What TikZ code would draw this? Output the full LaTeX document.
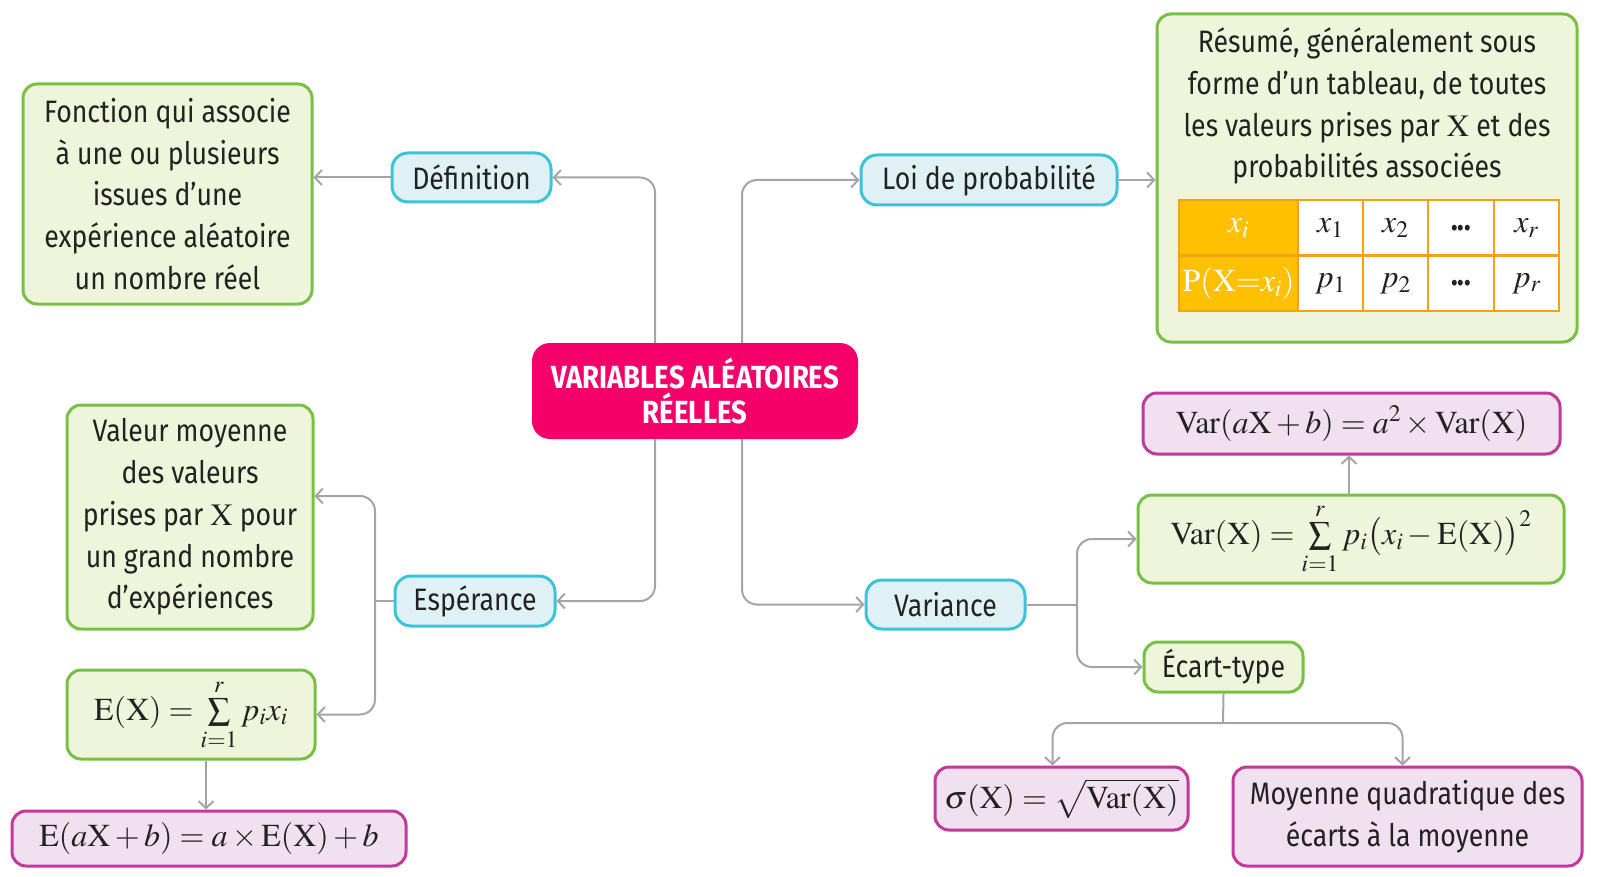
\documentclass[tikz,border=0pt]{standalone}
\usepackage{mathptmx}
\usepackage[no-math]{fontspec}
\setmainfont{Fira Sans}[FakeStretch=0.86]
\usetikzlibrary{arrows.meta}
\definecolor{gborder}{HTML}{78C043}
\definecolor{gfill}{HTML}{EEF5DB}
\definecolor{bborder}{HTML}{3CC3DA}
\definecolor{bfill}{HTML}{E0F1F5}
\definecolor{pinkc}{HTML}{F5006B}
\definecolor{pborder}{HTML}{C2399B}
\definecolor{pfill}{HTML}{F0E0F0}
\definecolor{conncol}{HTML}{A5A5A5}
\definecolor{txt}{HTML}{222222}
\definecolor{orangec}{HTML}{F7A11A}
\definecolor{yellowc}{HTML}{FFC000}
\begin{document}
\begin{tikzpicture}[x=1pt,y=-1pt,
  every node/.style={text=txt, font=\fontsize{31}{41.8}\selectfont, inner sep=0pt, align=center},
  mathfont/.style={font=\fontsize{32}{38}\selectfont},
  greenbox/.style={draw=gborder, fill=gfill, line width=3pt, rounded corners=14pt},
  bluebox/.style={draw=bborder, fill=bfill, line width=3pt, rounded corners=16pt},
  purplebox/.style={draw=pborder, fill=pfill, line width=3pt, rounded corners=14pt},
  centerbox/.style={fill=pinkc, rounded corners=18pt, text=white, font=\fontsize{32}{35.6}\selectfont\bfseries},
  conn/.style={draw=conncol, line width=2pt, rounded corners=15pt},
  arr/.style={conn, -{Straight Barb[length=7pt,width=15pt,line width=2pt]}},
  cell/.style={draw=orangec, line width=2pt, fill=white, minimum height=55pt, mathfont},
  hcell/.style={cell, fill=yellowc, text=white}
]
\useasboundingbox (0,0) rectangle (1597,877);

% nodes
\node[centerbox, minimum width=326pt, minimum height=96pt] (cen) at (695,391) {VARIABLES ALÉATOIRES\\RÉELLES};
\node[bluebox, minimum width=159pt, minimum height=49pt] (def) at (471.5,177.5) {Définition};
\node[greenbox, minimum width=289pt, minimum height=220pt] (fonc) at (167.5,194) {Fonction qui associe\\à une ou plusieurs\\issues d’une\\expérience aléatoire\\un nombre réel};
\node[bluebox, minimum width=256pt, minimum height=50pt] (loi) at (989,180) {Loi de probabilité};
\node[greenbox, minimum width=420pt, minimum height=328pt] (res) at (1367,178) {};
\node (restxt) at (1367,106) {Résumé, généralement sous\\forme d’un tableau, de toutes\\les valeurs prises par $\mathrm{X}$ et des\\probabilités associées};

% table
\node[hcell, minimum width=119pt] (h1) at (1238.5,228) {$x_i$};
\node[cell, minimum width=65pt] (h2) at (1330.5,228) {$x_1$};
\node[cell, minimum width=65pt] (h3) at (1395.5,228) {$x_2$};
\node[cell, minimum width=66pt] (h4) at (1461,228) {\textbf{...}};
\node[cell, minimum width=65pt] (h5) at (1526.5,228) {$x_r$};
\node[hcell, minimum width=119pt] (r1) at (1238.5,283.5) {$\mathrm{P}(\mathrm{X}{=}x_i)$};
\node[cell, minimum width=65pt] (r2) at (1330.5,283.5) {$p_1$};
\node[cell, minimum width=65pt] (r3) at (1395.5,283.5) {$p_2$};
\node[cell, minimum width=66pt] (r4) at (1461,283.5) {\textbf{...}};
\node[cell, minimum width=65pt] (r5) at (1526.5,283.5) {$p_r$};

\node[greenbox, minimum width=246pt, minimum height=224pt] (val) at (190,517) {Valeur moyenne\\des valeurs\\prises par $\mathrm{X}$ pour\\un grand nombre\\d’expériences};
\node[bluebox, minimum width=160pt, minimum height=50pt] (esp) at (475,601) {Espérance};
\node[greenbox, mathfont, minimum width=248pt, minimum height=89pt] (ex) at (191,714.5) {$\mathrm{E}(\mathrm{X}) = \sum\limits_{i=1}^{r} p_i x_i$};
\node[purplebox, mathfont, minimum width=394pt, minimum height=55pt] (eab) at (209,838.5) {$\mathrm{E}(a\mathrm{X}+b) = a\times\mathrm{E}(\mathrm{X})+b$};

\node[bluebox, minimum width=159pt, minimum height=49pt] (var) at (945.5,604.5) {Variance};
\node[purplebox, mathfont, minimum width=417pt, minimum height=61pt] (vab) at (1351.5,423.5) {$\mathrm{Var}(a\mathrm{X}+b) = a^2\times\mathrm{Var}(\mathrm{X})$};
\node[greenbox, mathfont, minimum width=426pt, minimum height=88pt] (varx) at (1351,539) {$\mathrm{Var}(\mathrm{X}) = \sum\limits_{i=1}^{r} p_i\bigl(x_i - \mathrm{E}(\mathrm{X})\bigr)^2$};
\node[greenbox, minimum width=159pt, minimum height=50pt] (et) at (1223.5,667) {Écart-type};
\node[purplebox, mathfont, minimum width=253pt, minimum height=63pt] (sig) at (1061.5,798.5) {$\sigma(\mathrm{X}) = \sqrt{\mathrm{Var}(\mathrm{X})}$};
\node[purplebox, minimum width=349pt, minimum height=99pt] (moy) at (1407.5,816.5) {Moyenne quadratique des\\écarts à la moyenne};

% junctions
\coordinate (ej) at (375,601);
\coordinate (vj) at (1077,604.5);
\coordinate (etj) at (1223,723);

% connectors
\draw[arr] ([xshift=-40pt]cen.north) |- (def.east);
\draw[arr] ([xshift=47pt]cen.north) |- (loi.west);
\draw[arr] ([xshift=-40pt]cen.south) |- (esp.east);
\draw[arr] ([xshift=47pt]cen.south) |- (var.west);
\draw[arr] (def.west) -- (def.west -| fonc.east);
\draw[arr] (loi.east) -- (loi.east -| res.west);
\draw[conn] (esp.west) -- (ej);
\draw[arr] (ej) |- ([yshift=21pt]val.east);
\draw[arr] (ej) |- (ex.east);
\draw[arr] ([xshift=15pt]ex.south) -- ([xshift=15pt]ex.south |- eab.north);
\draw[conn] (var.east) -- (vj);
\draw[arr] (vj) |- (varx.west);
\draw[arr] (vj) |- (et.west);
\draw[arr] ([xshift=-2pt]varx.north) -- ([xshift=-2pt]varx.north |- vab.south);
\draw[conn] (et.south) -- (etj);
\draw[arr] (etj) -| ([xshift=-9pt]sig.north);
\draw[arr] (etj) -| ([xshift=-5pt]moy.north);
\end{tikzpicture}
\end{document}
